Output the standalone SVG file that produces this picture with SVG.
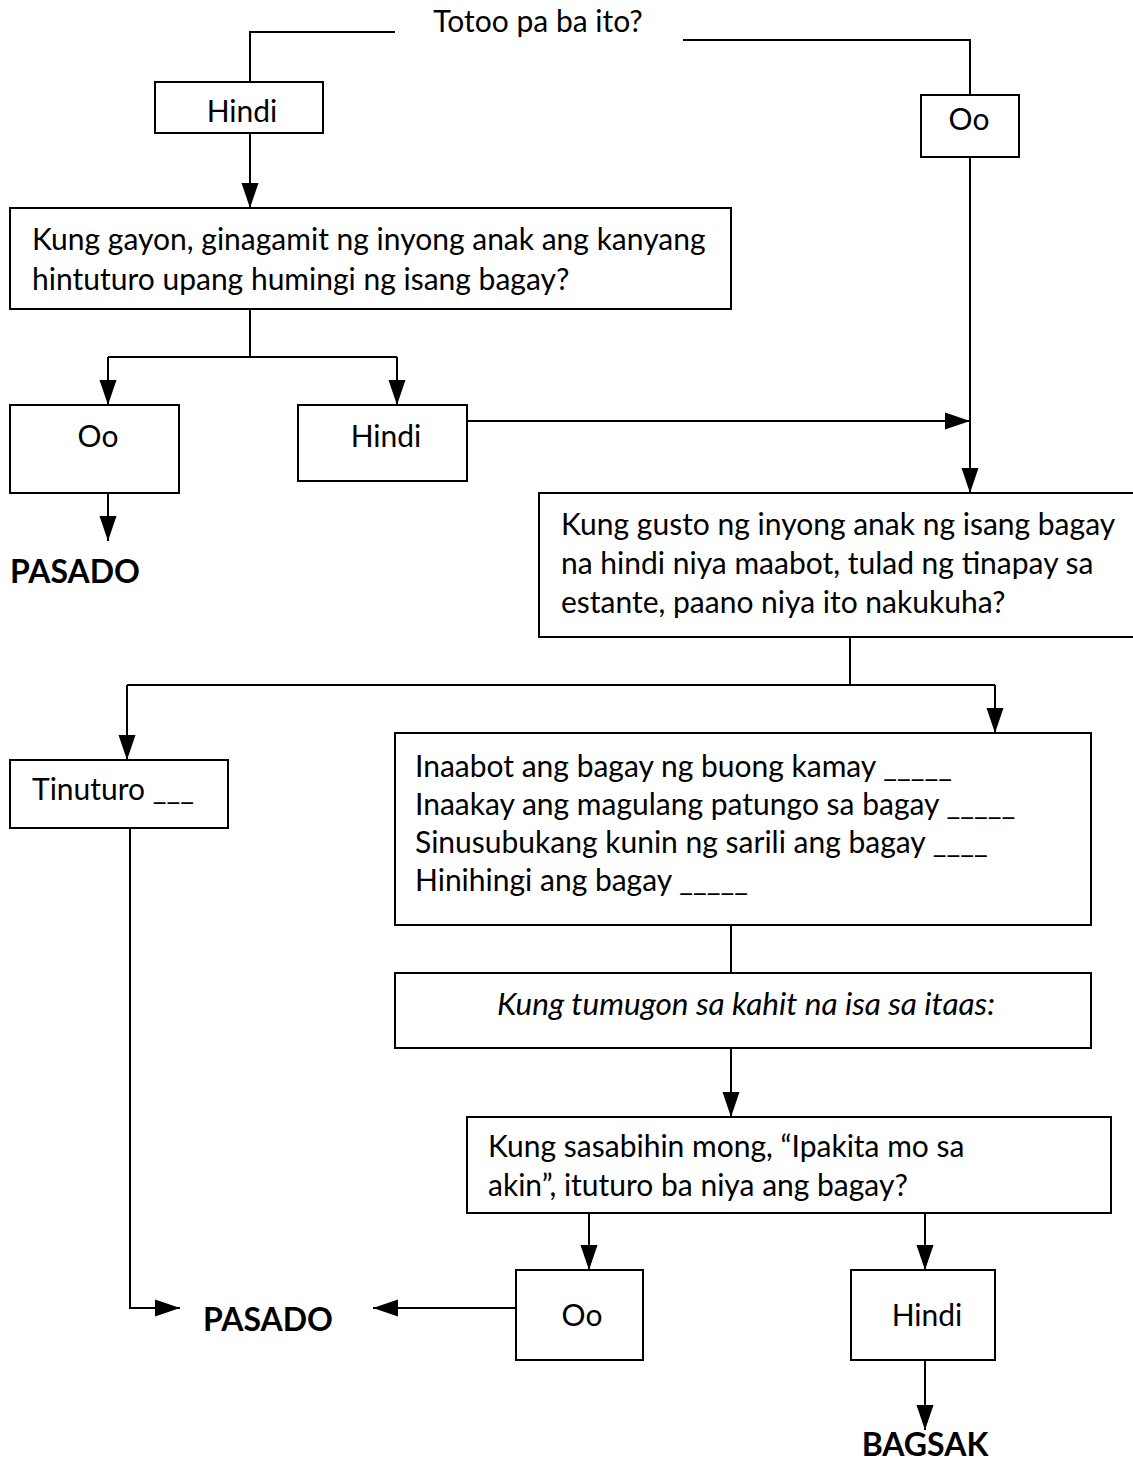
<svg xmlns="http://www.w3.org/2000/svg" width="1133" height="1465" viewBox="0 0 1133 1465">
<style>
.t{font-family:Lato,"Liberation Sans",sans-serif;font-size:30px;fill:#000}
.b{font-family:Lato,"Liberation Sans",sans-serif;font-size:32px;font-weight:bold;fill:#000}
.i{font-style:italic;font-size:31.5px}
.box{fill:#fff;stroke:#000;stroke-width:2}
.ln{fill:none;stroke:#000;stroke-width:2}
.m{text-anchor:middle}
</style>
<defs>
<marker id="ah" markerUnits="userSpaceOnUse" markerWidth="28" markerHeight="20" viewBox="0 0 28 20" refX="25" refY="10" orient="auto">
<path d="M0,1.5 L25,10 L0,18.5 Z" fill="#000"/>
</marker>
</defs>
<g id="connectors">
<path class="ln" d="M395,32 H250 V82"/>
<path class="ln" d="M683,40 H970 V95"/>
<path class="ln" d="M250,133 V208" marker-end="url(#ah)"/>
<path class="ln" d="M970,157 V493" marker-end="url(#ah)"/>
<path class="ln" d="M467,421 H970" marker-end="url(#ah)"/>
<path class="ln" d="M250,309 V357"/>
<path class="ln" d="M108,357 H397"/>
<path class="ln" d="M108,357 V405" marker-end="url(#ah)"/>
<path class="ln" d="M397,357 V405" marker-end="url(#ah)"/>
<path class="ln" d="M108,493 V541" marker-end="url(#ah)"/>
<path class="ln" d="M850,637 V685"/>
<path class="ln" d="M127,685 H995"/>
<path class="ln" d="M127,685 V760" marker-end="url(#ah)"/>
<path class="ln" d="M995,685 V733" marker-end="url(#ah)"/>
<path class="ln" d="M130,828 V1308 H180" marker-end="url(#ah)"/>
<path class="ln" d="M731,925 V973"/>
<path class="ln" d="M731,1048 V1117" marker-end="url(#ah)"/>
<path class="ln" d="M589,1213 V1270" marker-end="url(#ah)"/>
<path class="ln" d="M925,1213 V1270" marker-end="url(#ah)"/>
<path class="ln" d="M516,1308 H373" marker-end="url(#ah)"/>
<path class="ln" d="M925,1360 V1430" marker-end="url(#ah)"/>
</g>
<g id="n-start"><text class="t m" x="538" y="32">Totoo pa ba ito?</text></g>
<g id="n-hindi1"><rect class="box" x="155" y="82" width="168" height="51"/><text class="t m" x="242" y="122">Hindi</text></g>
<g id="n-oo1"><rect class="box" x="921" y="95" width="98" height="62"/><text class="t m" x="969" y="130">Oo</text></g>
<g id="n-q1"><rect class="box" x="10" y="208" width="721" height="101"/>
<text class="t" x="32" y="250">Kung gayon, ginagamit ng inyong anak ang kanyang</text>
<text class="t" x="32" y="290">hintuturo upang humingi ng isang bagay?</text></g>
<g id="n-oo2"><rect class="box" x="10" y="405" width="169" height="88"/><text class="t m" x="98" y="447">Oo</text></g>
<g id="n-hindi2"><rect class="box" x="298" y="405" width="169" height="76"/><text class="t m" x="386" y="447">Hindi</text></g>
<g id="n-pasado1"><text class="b" x="10" y="583">PASADO</text></g>
<g id="n-q2"><rect class="box" x="539" y="493" width="600" height="144"/>
<text class="t" x="561" y="535">Kung gusto ng inyong anak ng isang bagay</text>
<text class="t" x="561" y="574">na hindi niya maabot, tulad ng tinapay sa</text>
<text class="t" x="561" y="613">estante, paano niya ito nakukuha?</text></g>
<g id="n-tinuturo"><rect class="box" x="10" y="760" width="218" height="68"/><text class="t" x="32" y="800">Tinuturo ___</text></g>
<g id="n-list"><rect class="box" x="395" y="733" width="696" height="192"/>
<text class="t" x="415" y="777">Inaabot ang bagay ng buong kamay _____</text>
<text class="t" x="415" y="815">Inaakay ang magulang patungo sa bagay _____</text>
<text class="t" x="415" y="853">Sinusubukang kunin ng sarili ang bagay ____</text>
<text class="t" x="415" y="891">Hinihingi ang bagay _____</text></g>
<g id="n-kung"><rect class="box" x="395" y="973" width="696" height="75"/><text class="t i m" x="746" y="1015">Kung tumugon sa kahit na isa sa itaas:</text></g>
<g id="n-q3"><rect class="box" x="467" y="1117" width="644" height="96"/>
<text class="t" x="488" y="1157">Kung sasabihin mong, “Ipakita mo sa</text>
<text class="t" x="488" y="1196">akin”, ituturo ba niya ang bagay?</text></g>
<g id="n-oo3"><rect class="box" x="516" y="1270" width="127" height="90"/><text class="t m" x="582" y="1326">Oo</text></g>
<g id="n-hindi3"><rect class="box" x="851" y="1270" width="144" height="90"/><text class="t m" x="927" y="1326">Hindi</text></g>
<g id="n-pasado2"><text class="b" x="203" y="1331">PASADO</text></g>
<g id="n-bagsak"><text class="b m" x="925" y="1456">BAGSAK</text></g>
</svg>
